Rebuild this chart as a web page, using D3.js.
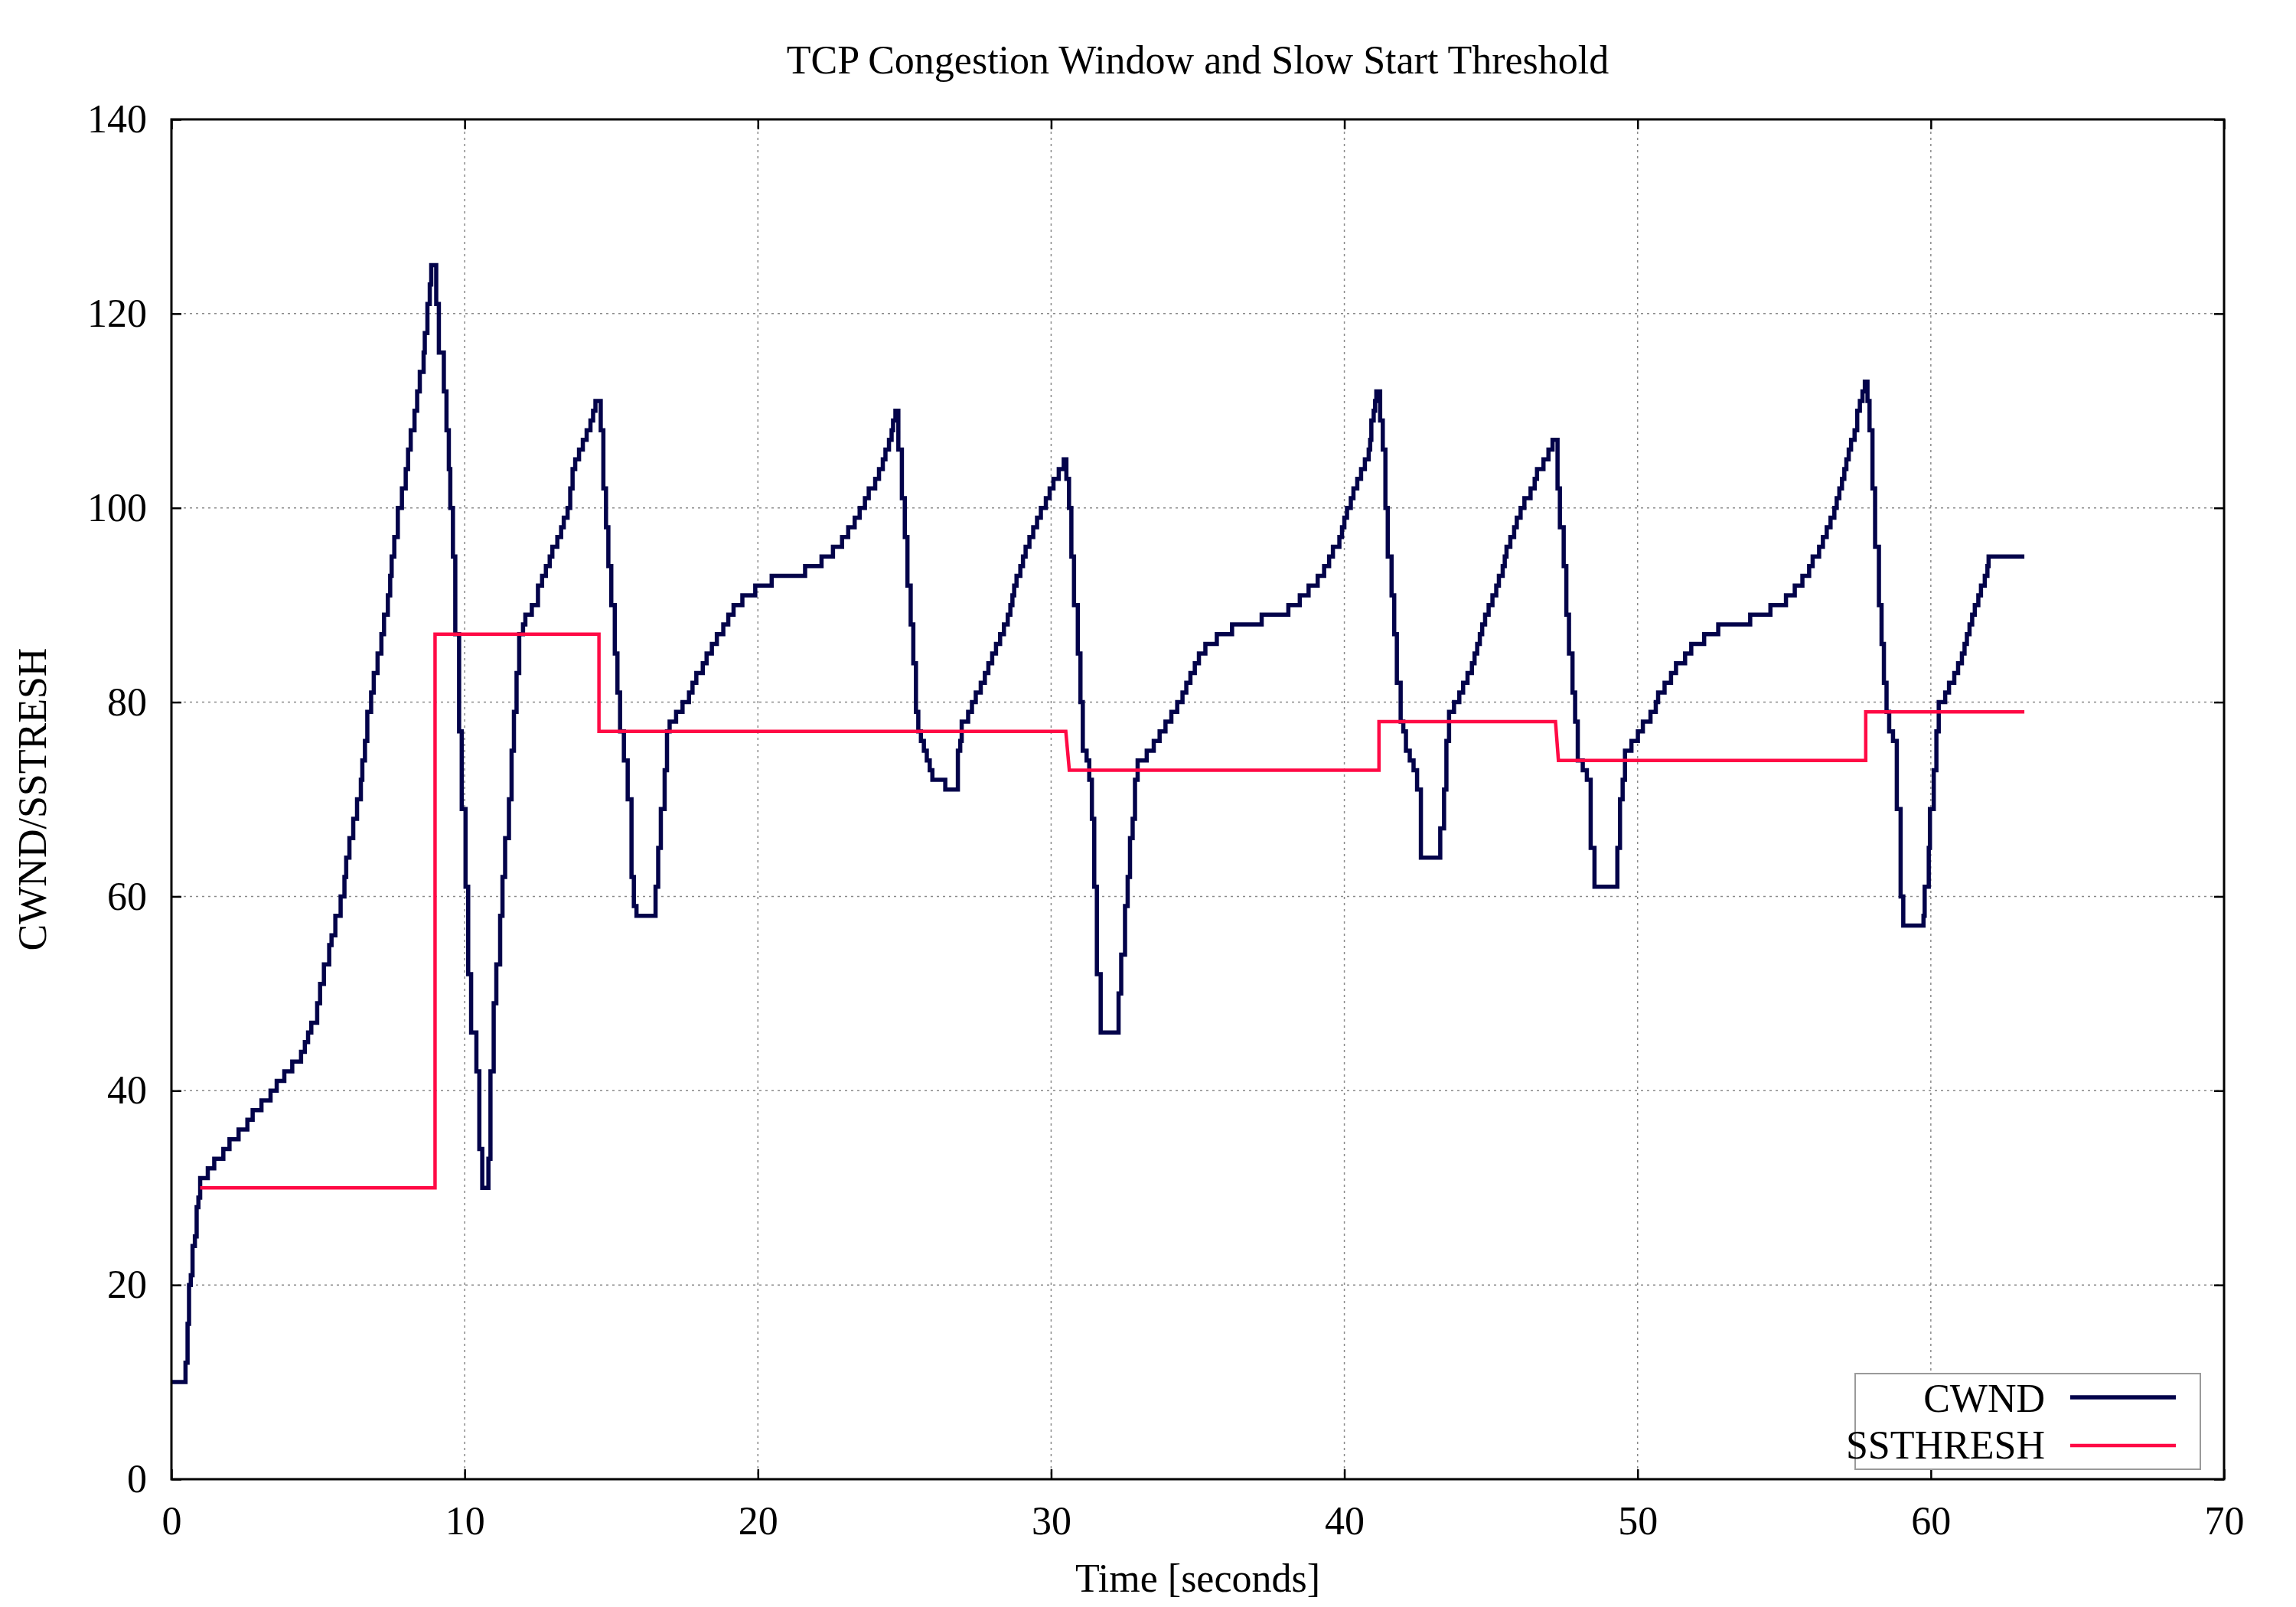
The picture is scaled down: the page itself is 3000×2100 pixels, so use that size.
<!DOCTYPE html>
<html><head><meta charset="utf-8">
<script src="https://cdn.jsdelivr.net/npm/d3@7"></script>
<style>html,body{margin:0;padding:0;background:#fff}</style>
</head><body><svg id="chart" width="3000" height="2100"></svg>
<script>
// ---- data ----
const cwndTime = [0,0.48,0.55,0.60,0.66,0.72,0.80,0.86,0.92,0.98,1.24,1.46,1.77,1.98,2.29,2.59,2.77,3.07,3.38,3.59,3.85,4.12,4.42,4.55,4.66,4.77,4.97,5.07,5.20,5.38,5.46,5.59,5.77,5.90,5.96,6.07,6.20,6.33,6.46,6.51,6.60,6.68,6.81,6.90,7.03,7.16,7.25,7.38,7.46,7.51,7.60,7.72,7.86,7.99,8.07,8.16,8.29,8.38,8.47,8.60,8.64,8.73,8.81,8.86,
9.03,9.12,9.29,9.38,9.46,9.51,9.60,9.68,9.81,9.90,10.03,10.12,10.22,10.40,10.50,10.60,
10.81,10.88,10.99,11.08,11.21,11.29,11.38,11.51,11.60,11.68,11.77,11.86,11.99,12.07,12.29,12.50,12.64,12.77,12.90,12.99,13.16,13.29,13.38,13.51,13.60,13.68,13.77,13.90,14.03,14.16,14.29,14.38,14.46,
14.64,14.73,14.82,14.90,15.00,15.12,15.21,15.30,15.43,15.56,15.69,15.77,15.86,
16.51,16.60,16.69,16.82,16.90,16.99,17.21,17.43,17.65,17.77,17.90,18.12,18.25,18.43,18.60,18.82,18.99,19.17,19.47,19.91,20.47,21.61,22.17,22.56,22.87,23.08,23.30,23.47,23.65,23.78,24.00,24.13,24.26,24.35,24.47,24.56,24.61,24.69,
24.79,24.91,25.01,25.10,25.21,25.30,25.39,25.47,25.56,25.66,25.76,25.86,25.95,26.39,
26.82,26.90,26.95,27.17,27.30,27.43,27.60,27.74,27.86,27.99,28.12,28.26,28.39,28.52,28.61,28.68,28.74,28.82,28.95,29.04,29.13,29.26,29.39,29.52,29.65,29.82,29.95,30.08,30.26,30.43,
30.52,30.61,30.69,30.78,30.91,31.00,31.08,31.21,31.30,31.39,31.47,31.56,31.69,
32.30,32.39,32.52,32.61,32.69,32.78,32.86,32.95,33.26,33.50,33.70,33.90,34.10,34.30,34.48,34.61,34.75,34.90,35.04,35.26,35.65,36.17,37.18,38.09,38.48,38.78,39.09,39.31,39.48,39.61,39.83,39.92,40.00,40.09,40.22,40.31,40.44,40.57,40.70,40.83,40.88,40.92,41.00,41.05,41.09,
41.22,41.31,41.40,41.48,41.61,41.70,41.79,41.92,42.01,42.10,42.23,42.36,42.48,42.61,
43.27,43.40,43.48,43.57,43.74,43.92,44.05,44.20,44.35,44.44,44.53,44.62,44.70,44.80,44.92,45.05,45.18,45.27,45.40,45.47,45.53,45.66,45.79,45.88,46.01,46.14,46.35,46.49,46.57,46.79,46.96,47.10,
47.27,47.35,47.48,47.57,47.66,47.78,47.87,47.96,48.13,48.27,48.40,48.53,
49.31,49.40,49.49,49.57,49.79,50.01,50.18,50.44,50.62,50.70,50.92,51.14,51.31,51.62,51.83,52.27,52.75,53.84,54.53,55.06,55.36,55.62,55.85,55.97,56.19,56.32,56.45,56.58,56.71,56.79,56.88,56.97,57.05,57.12,57.20,57.28,57.40,57.49,57.58,57.67,57.75,
57.84,57.91,58.01,58.10,58.23,58.32,58.40,58.49,58.58,58.71,58.84,58.97,59.06,
59.75,59.79,59.93,59.97,60.10,60.19,60.27,60.49,60.62,60.80,60.93,61.06,61.15,61.23,61.32,61.41,61.50,61.62,61.71,61.84,61.93,61.97,63.19];

const cwndValue = [10,12,16,20,21,24,25,28,29,31,32,33,34,35,36,37,38,39,40,41,42,43,44,45,46,47,49,51,53,55,56,58,60,62,64,66,68,70,72,74,76,79,81,83,85,87,89,91,93,95,97,100,102,104,106,108,110,112,114,116,118,121,123,125,
121,116,112,108,104,100,95,87,77,69,61,52,46,42,34,30,
33,42,49,53,58,62,66,70,75,79,83,87,88,89,90,92,93,94,95,96,97,98,99,100,102,104,105,106,107,108,109,110,111,
108,102,98,94,90,85,81,77,74,70,62,59,58,
61,65,69,73,77,78,79,80,81,82,83,84,85,86,87,88,89,90,91,92,93,94,95,96,97,98,99,100,101,102,103,104,105,106,107,108,109,110,
106,101,97,92,88,84,79,77,76,75,74,73,72,71,
75,76,78,79,80,81,82,83,84,85,86,87,88,89,90,91,92,93,94,95,96,97,98,99,100,101,102,103,104,105,
103,100,95,90,85,80,75,74,72,68,61,52,46,
50,54,59,62,66,68,72,74,75,76,77,78,79,80,81,82,83,84,85,86,87,88,89,90,91,92,93,94,95,96,97,98,99,100,101,102,103,104,105,106,107,109,110,111,112,
109,106,100,95,91,87,82,78,77,75,74,73,71,64,
67,71,76,79,80,81,82,83,84,85,86,87,88,89,90,91,92,93,94,95,96,97,98,99,100,101,102,103,104,105,106,107,
102,98,94,89,85,81,78,74,73,72,65,61,
65,70,72,75,76,77,78,79,80,81,82,83,84,85,86,87,88,89,90,91,92,93,94,95,96,97,98,99,100,101,102,103,104,105,106,107,108,110,111,112,113,
111,108,102,96,90,86,82,79,77,76,69,60,57,
58,61,65,69,73,77,80,81,82,83,84,85,86,87,88,89,90,91,92,93,94,95,95];

const ssthreshTime  = [0.98, 8.99, 8.99, 14.58, 14.58, 30.50, 30.62, 41.18, 41.18, 47.20, 47.30, 57.78, 57.78, 63.19];
const ssthreshValue = [30,   30,   87,   87,    77,    77,    73,    73,    78,    78,    74,    74,    79,    79];

const xTicks = [0,10,20,30,40,50,60,70];
const yTicks = [0,20,40,60,80,100,120,140];
const seriesNames = ["CWND","SSTHRESH"];

// ---- layout ----
const W = 3000, H = 2100;
const P = {left:224, right:2906, top:156, bottom:1933};
const FONT = '"Liberation Serif","Times New Roman",Times,serif';
const COL_CWND = "#03034a", COL_SS = "#ff0a45";
const LW_CWND = 5.5, LW_SS = 4.5;

const svg = d3.select("#chart");
svg.append("rect").attr("width",W).attr("height",H).attr("fill","#fff");

const x = d3.scaleLinear().domain([0,70]).range([P.left,P.right]);
const y = d3.scaleLinear().domain([0,140]).range([P.bottom,P.top]);

// grid
const grid = svg.append("g").attr("stroke","#8a8a8a").attr("stroke-width",1.5).attr("stroke-dasharray","3,5");
grid.selectAll("line.gx").data(xTicks.filter(d=>d>0&&d<70)).join("line")
  .attr("x1",d=>x(d)).attr("x2",d=>x(d)).attr("y1",P.top).attr("y2",P.bottom);
grid.selectAll("line.gy").data(yTicks.filter(d=>d>0&&d<140)).join("line")
  .attr("y1",d=>y(d)).attr("y2",d=>y(d)).attr("x1",P.left).attr("x2",P.right);

// axes (ticks inward)
function styleAxis(g){
  g.select(".domain").remove();
  g.selectAll(".tick line").attr("stroke","#000").attr("stroke-width",2.5);
  g.selectAll(".tick text").attr("font-family",FONT).attr("font-size",52).attr("fill","#000");
}
svg.append("g").attr("transform",`translate(0,${P.bottom})`)
  .call(d3.axisBottom(x).tickValues(xTicks).tickSize(-13).tickSizeOuter(0).tickPadding(35).tickFormat(d3.format("d")))
  .call(styleAxis);
svg.append("g").attr("transform",`translate(0,${P.top})`)
  .call(d3.axisTop(x).tickValues(xTicks).tickSize(-13).tickSizeOuter(0).tickFormat(""))
  .call(styleAxis);
svg.append("g").attr("transform",`translate(${P.left},0)`)
  .call(d3.axisLeft(y).tickValues(yTicks).tickSize(-13).tickSizeOuter(0).tickPadding(32).tickFormat(d3.format("d")))
  .call(styleAxis);
svg.append("g").attr("transform",`translate(${P.right},0)`)
  .call(d3.axisRight(y).tickValues(yTicks).tickSize(-13).tickSizeOuter(0).tickFormat(""))
  .call(styleAxis);

// series
const cwnd = cwndTime.map((t,i)=>[t,cwndValue[i]]);
const ss = ssthreshTime.map((t,i)=>[t,ssthreshValue[i]]);
const stepLine = d3.line().x(d=>x(d[0])).y(d=>y(d[1])).curve(d3.curveStepAfter);
const linLine = d3.line().x(d=>x(d[0])).y(d=>y(d[1]));
svg.append("path").datum(cwnd).attr("d",stepLine).attr("fill","none")
  .attr("stroke",COL_CWND).attr("stroke-width",LW_CWND).attr("stroke-linejoin","miter");
svg.append("path").datum(ss).attr("d",linLine).attr("fill","none")
  .attr("stroke",COL_SS).attr("stroke-width",LW_SS).attr("stroke-linejoin","miter");

// frame
svg.append("rect").attr("x",P.left).attr("y",P.top).attr("width",P.right-P.left).attr("height",P.bottom-P.top)
  .attr("fill","none").attr("stroke","#000").attr("stroke-width",3);

// title & labels
svg.append("text").attr("x",1565).attr("y",96).attr("text-anchor","middle")
  .attr("font-family",FONT).attr("font-size",52).text("TCP Congestion Window and Slow Start Threshold");
svg.append("text").attr("x",1565).attr("y",2080).attr("text-anchor","middle")
  .attr("font-family",FONT).attr("font-size",52).text("Time [seconds]");
svg.append("text").attr("transform",`translate(60,${(P.top+P.bottom)/2}) rotate(-90)`).attr("text-anchor","middle")
  .attr("font-family",FONT).attr("font-size",52).text("CWND/SSTRESH");

// legend
const lg = svg.append("g");
lg.append("rect").attr("x",2424).attr("y",1795).attr("width",451).attr("height",125)
  .attr("fill","#fff").attr("stroke","#9a9a9a").attr("stroke-width",2);
const legendRows = [{name:seriesNames[0],color:COL_CWND,w:LW_CWND,ty:1845,ly:1826},{name:seriesNames[1],color:COL_SS,w:LW_SS,ty:1906,ly:1889}];
legendRows.forEach(r=>{
  lg.append("text").attr("x",2672).attr("y",r.ty).attr("text-anchor","end")
    .attr("font-family",FONT).attr("font-size",52).text(r.name);
  lg.append("line").attr("x1",2705).attr("x2",2843).attr("y1",r.ly).attr("y2",r.ly)
    .attr("stroke",r.color).attr("stroke-width",r.w);
});
</script>
</body></html>
